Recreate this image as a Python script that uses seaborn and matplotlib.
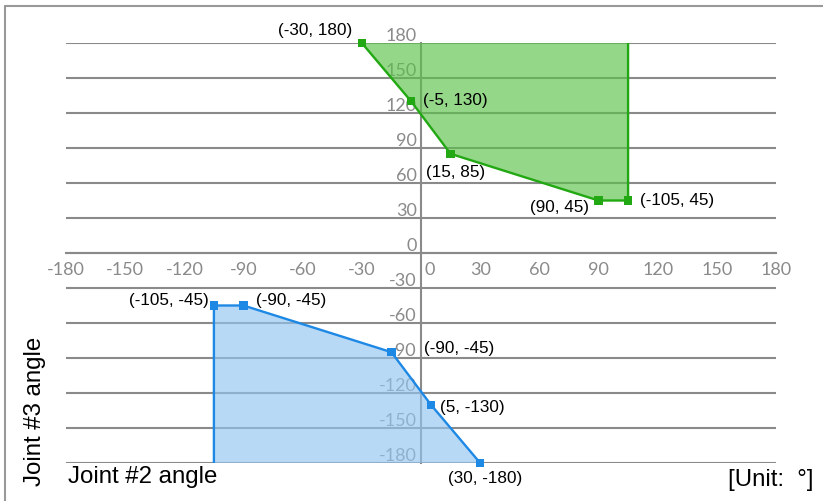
import matplotlib
matplotlib.use("Agg")
import matplotlib.pyplot as plt
import matplotlib.transforms as mtransforms
from matplotlib.lines import Line2D
import seaborn as sns
import pandas as pd

# ---- data ----
upper_j2 = [-30, -5, 15, 90, 105]
upper_j3 = [180, 130, 85, 45, 45]
upper_labels = ["(-30, 180)", "(-5, 130)", "(15, 85)", "(90, 45)", "(-105, 45)"]
upper_close_j2 = [105]          # boundary goes up to the top edge
upper_close_j3 = [180]

lower_j2 = [-105, -90, -15, 5, 30]
lower_j3 = [-45, -45, -85, -130, -180]
lower_labels = ["(-105, -45)", "(-90, -45)", "(-90, -45)", "(5, -130)", "(30, -180)"]
lower_start_j2 = [-105]         # boundary starts at the bottom edge
lower_start_j3 = [-180]

tick_values = [-180, -150, -120, -90, -60, -30, 0, 30, 60, 90, 120, 150, 180]
tick_labels = [str(v) for v in tick_values]

# ---- style ----
sns.set_theme(style="white")
plt.rcParams["font.family"] = ["Liberation Sans", "DejaVu Sans"]

GRID = "#8a8a8a"
TICKC = "#8a8a8a"
GREEN_LINE = "#22a812"
GREEN_FILL = "#5cc24a"
BLUE_LINE = "#1e88e5"
BLUE_FILL = "#92c6f0"

fig = plt.figure(figsize=(8.23, 5.02), dpi=100)
ax = fig.add_axes([66 / 823, 38 / 502, 710 / 823, 420 / 502])
ax.set_xlim(-180, 180)
ax.set_ylim(-180, 180)

for s in ["top", "right"]:
    ax.spines[s].set_visible(False)
ax.spines["left"].set_position(("data", 0))
ax.spines["bottom"].set_position(("data", 0))
for s in ["left", "bottom"]:
    ax.spines[s].set_color(GRID)
    ax.spines[s].set_linewidth(1.5)
    ax.spines[s].set_zorder(1)

ax.set_xticks(tick_values)
ax.set_xticklabels(tick_labels)
ax.set_yticks(tick_values)
ax.set_yticklabels(tick_labels)
ax.tick_params(axis="x", direction="out", length=3.5, width=1.2, color=GRID,
               pad=2, labelsize=13, labelcolor=TICKC)
ax.tick_params(axis="y", length=0, pad=3, labelsize=13, labelcolor=TICKC)
for lab in ax.get_xticklabels() + ax.get_yticklabels():
    lab.set_family(["Lato", "DejaVu Sans"])

# shift y labels upward and the x "0" label to the right
up = mtransforms.ScaledTranslation(0, 9.5 / 100, fig.dpi_scale_trans)
for lab in ax.get_yticklabels():
    lab.set_transform(lab.get_transform() + up)
right = mtransforms.ScaledTranslation(9 / 100, 0, fig.dpi_scale_trans)
for t in ax.xaxis.get_major_ticks():
    if t.label1.get_text() == "0":
        t.label1.set_transform(t.label1.get_transform() + right)

ax.yaxis.grid(True, color=GRID, linewidth=1.5, zorder=0)
ax.xaxis.grid(False)
ax.set_axisbelow(True)

# ---- regions ----
up_x = upper_j2 + upper_close_j2
up_y = upper_j3 + upper_close_j3
lo_x = lower_start_j2 + lower_j2
lo_y = lower_start_j3 + lower_j3

ax.fill(up_x, up_y, color=GREEN_FILL, alpha=0.65, lw=0, zorder=2)
ax.fill(lo_x, lo_y, color=BLUE_FILL, alpha=0.65, lw=0, zorder=2)

df_up = pd.DataFrame({"j2": up_x, "j3": up_y})
df_lo = pd.DataFrame({"j2": lo_x, "j3": lo_y})
sns.lineplot(data=df_up, x="j2", y="j3", sort=False, estimator=None,
             color=GREEN_LINE, linewidth=1.7, ax=ax, zorder=4)
sns.lineplot(data=df_lo, x="j2", y="j3", sort=False, estimator=None,
             color=BLUE_LINE, linewidth=1.7, ax=ax, zorder=4)
sns.scatterplot(x=upper_j2, y=upper_j3, marker="s", s=36, color=GREEN_LINE,
                edgecolor="none", ax=ax, zorder=5, clip_on=False)
sns.scatterplot(x=lower_j2, y=lower_j3, marker="s", s=36, color=BLUE_LINE,
                edgecolor="none", ax=ax, zorder=5, clip_on=False)
ax.set_xlabel("")
ax.set_ylabel("")

# ---- point labels ----
upper_off = [(-10, 13, "right"), (12, 2, "left"), (5, -18, "center"),
             (-9, -6, "right"), (12, 1, "left")]
lower_off = [(-5, 6, "right"), (12, 6, "left"), (33, 5, "left"),
             (9, -2, "left"), (5, -15, "center")]
for x, y, t, (dx, dy, ha) in zip(upper_j2, upper_j3, upper_labels, upper_off):
    ax.annotate(t, (x, y), xytext=(dx, dy), textcoords="offset pixels",
                ha=ha, va="center", fontsize=12.3, color="black", zorder=6,
                annotation_clip=False)
for x, y, t, (dx, dy, ha) in zip(lower_j2, lower_j3, lower_labels, lower_off):
    ax.annotate(t, (x, y), xytext=(dx, dy), textcoords="offset pixels",
                ha=ha, va="center", fontsize=12.3, color="black", zorder=6,
                annotation_clip=False)

# ---- axis titles ----
fig.text(35 / 823, 1 - 411 / 502, "Joint #3 angle", rotation=90,
         ha="center", va="center", fontsize=17.3, color="black")
fig.text(68 / 823, 1 - 477 / 502, "Joint #2 angle",
         ha="left", va="center", fontsize=17.3, color="black")
fig.text(813 / 823, 1 - 480 / 502, "[Unit:  °]",
         ha="right", va="center", fontsize=17.3, color="black")

# ---- frame (top and left edges) ----
fig.add_artist(Line2D([5 / 823, 1], [1 - 7 / 502, 1 - 7 / 502],
                      transform=fig.transFigure, color="#999999", lw=1.5))
fig.add_artist(Line2D([5 / 823, 5 / 823], [0, 1 - 7 / 502],
                      transform=fig.transFigure, color="#999999", lw=1.5))

fig.savefig("out.png", dpi=100)
